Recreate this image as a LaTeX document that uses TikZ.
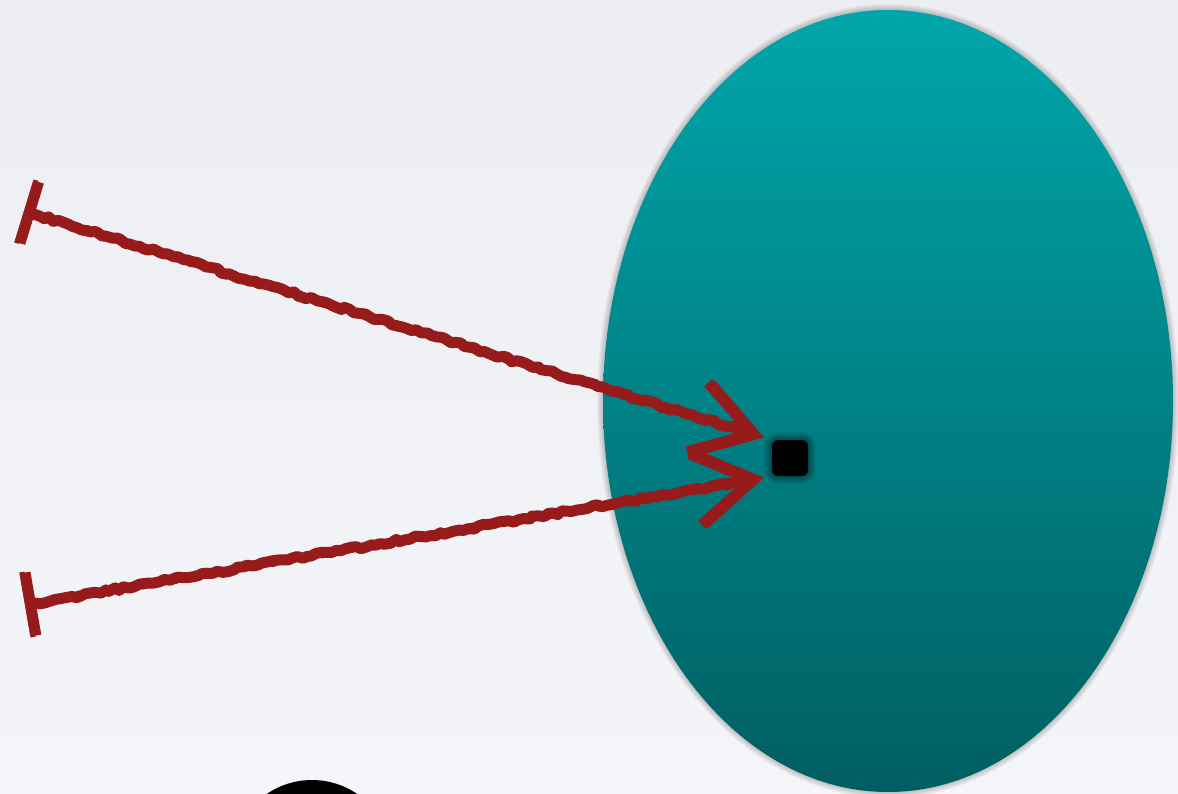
\documentclass[tikz,border=0pt]{standalone}
\usetikzlibrary{arrows.meta,positioning,shapes.geometric,decorations.pathmorphing}
\definecolor{chalkred}{RGB}{152,27,28}
\definecolor{tealtop}{RGB}{0,166,171}
\definecolor{tealbot}{RGB}{0,94,97}
\definecolor{bgtop}{RGB}{236,238,241}
\definecolor{bgbot}{RGB}{244,245,248}

\begin{document}
\begin{tikzpicture}[x=1pt,y=-1pt,
  blob/.style={ellipse,inner sep=0pt,minimum width=570pt,minimum height=782pt,
    top color=tealtop,bottom color=tealbot},
  pin/.style={rectangle,rounded corners=6pt,fill=black,inner sep=0pt,minimum size=36pt},
  chalk/.style={chalkred,line width=11pt,line join=round,{Bar[width=64pt]}-{Straight Barb[length=58pt,width=72pt]},
    decorate,decoration={random steps,segment length=5pt,amplitude=1.6pt,pre length=6pt,post length=30pt}},
  grain/.style={chalkred,line width=5pt,line join=round,{Bar[width=66pt]}-{Straight Barb[length=60pt,width=76pt]},
    decorate,decoration={random steps,segment length=4pt,amplitude=3pt,pre length=6pt,post length=30pt}}
]
  \useasboundingbox (0,0) rectangle (1178,794);
  \clip (0,0) rectangle (1178,794);
  \shade[top color=bgtop,bottom color=bgbot] (0,0) rectangle (1178,794);
  % shadow
  \foreach \g in {1,...,6} {
    \fill[black,opacity=0.035] (888,401) ellipse ({285+\g} and {391+\g});
  }
  \node[blob] (blob) at (888,401) {};
  \foreach \g in {2,4,...,16} {
    \node[pin,rounded corners={(6+\g/2)*1pt},minimum size={(36+\g)*1pt},opacity=0.05] at (790,458) {};
  }
  \node[pin] (dot) at (790,458) {};
  \node[circle,fill=black,inner sep=0pt,minimum size=160pt] (knob) at (312,860) {};
  % Arrows
  \coordinate (t1) at (24,211);
  \coordinate (t2) at (25,605);
  \foreach \a/\b in {t1/dot.north west, t2/dot.south west} {
    \draw[chalk,shorten >=9pt] (\a) -- (\b);
    \draw[grain,shorten >=8pt] (\a) -- (\b);
  }
\end{tikzpicture}
\end{document}
